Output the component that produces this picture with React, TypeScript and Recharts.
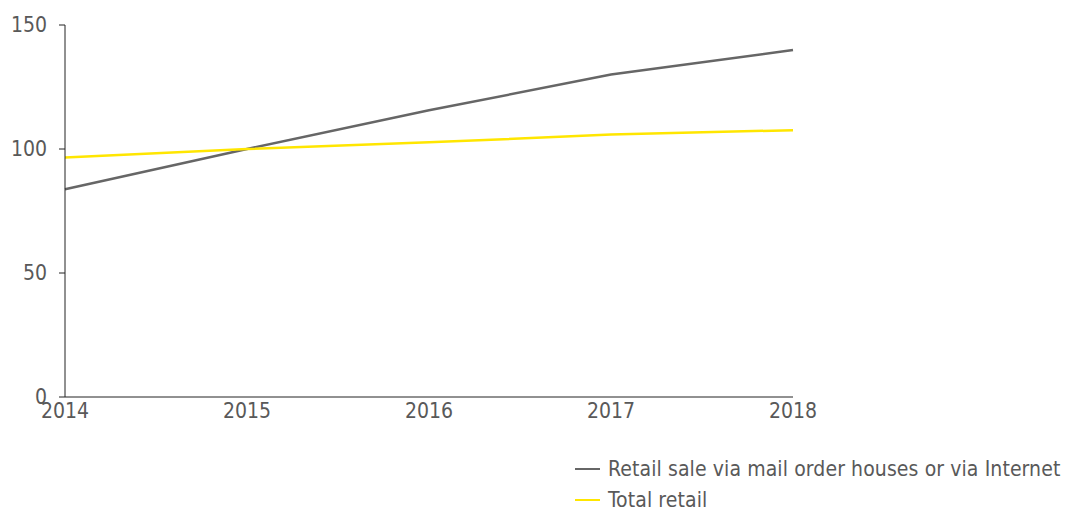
import React from "react";
import { LineChart, Line, XAxis, YAxis, Legend } from "recharts";

const years = ["2014", "2015", "2016", "2017", "2018"];
const mailOrder = [83.8, 100, 115.6, 130, 139.9];
const totalRetail = [96.6, 100, 102.7, 105.8, 107.6];
const yTicks = [0, 50, 100, 150];

const seriesNames = {
  mail: "Retail sale via mail order houses or via Internet",
  total: "Total retail",
};
const colors = { mail: "#666666", total: "#FFE600" };

const data = years.map((y, i) => ({
  year: y,
  mail: mailOrder[i],
  total: totalRetail[i],
}));

const FONT = "'DejaVu Sans Condensed', 'DejaVu Sans', sans-serif";
const TEXT = "#595959";

const renderLegend = (props: any) => {
  const { payload } = props;
  return (
    <div style={{ fontFamily: FONT, fontSize: 21, color: TEXT, letterSpacing: 0.1 }}>
      {payload.map((p: any) => (
        <div key={p.value} style={{ display: "flex", alignItems: "center", height: 31 }}>
          <span
            style={{
              display: "inline-block",
              width: 25,
              height: 2,
              background: p.color,
              marginRight: 8,
            }}
          />
          <span style={{ whiteSpace: "nowrap" }}>{p.value}</span>
        </div>
      ))}
    </div>
  );
};

export default function App() {
  return (
    <LineChart
      width={1062}
      height={502}
      data={data}
      margin={{ top: 17, right: 277, bottom: 21, left: 0 }}
    >
      <XAxis
        dataKey="year"
        tickLine={false}
        axisLine={{ stroke: "#222" }}
        tick={{ fill: TEXT, fontSize: 21, fontFamily: FONT }}
        tickSize={0}
        tickMargin={6}
        interval={0}
      />
      <YAxis
        domain={[0, 150]}
        ticks={yTicks}
        width={57}
        axisLine={{ stroke: "#222" }}
        tickLine={{ stroke: "#222" }}
        tickSize={6}
        tickMargin={12}
        tick={{ fill: TEXT, fontSize: 21, fontFamily: FONT }}
      />
      <Legend
        content={renderLegend}
        wrapperStyle={{ position: "absolute", left: 567, top: 445, width: 495 }}
      />
      <Line
        dataKey="mail"
        name={seriesNames.mail}
        stroke={colors.mail}
        strokeWidth={2.5}
        dot={false}
        isAnimationActive={false}
      />
      <Line
        dataKey="total"
        name={seriesNames.total}
        stroke={colors.total}
        strokeWidth={2.5}
        dot={false}
        isAnimationActive={false}
      />
    </LineChart>
  );
}
